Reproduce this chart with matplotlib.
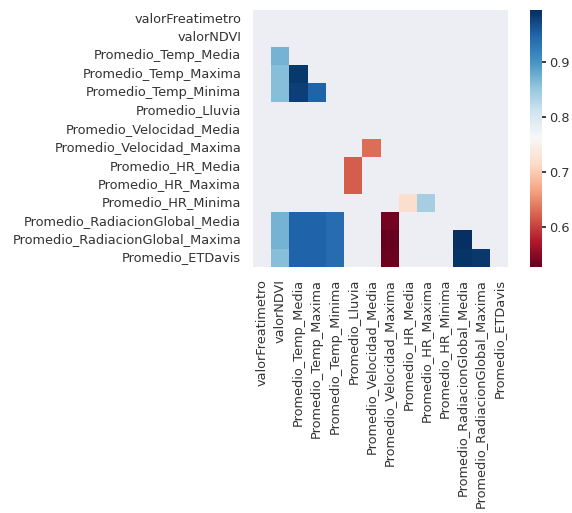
import numpy as np
import pandas as pd
import matplotlib
matplotlib.use("Agg")
import matplotlib.pyplot as plt
import seaborn as sns

# variables del dataset (orden de filas y columnas de la matriz)
variables = [
    "valorFreatimetro", "valorNDVI",
    "Promedio_Temp_Media", "Promedio_Temp_Maxima", "Promedio_Temp_Minima",
    "Promedio_Lluvia",
    "Promedio_Velocidad_Media", "Promedio_Velocidad_Maxima",
    "Promedio_HR_Media", "Promedio_HR_Maxima", "Promedio_HR_Minima",
    "Promedio_RadiacionGlobal_Media", "Promedio_RadiacionGlobal_Maxima",
    "Promedio_ETDavis",
]

# pares con correlacion alta (solo triangulo inferior)
var_fila = [
    "Promedio_Temp_Media", "Promedio_Temp_Maxima", "Promedio_Temp_Minima",
    "Promedio_Temp_Maxima", "Promedio_Temp_Minima", "Promedio_Temp_Minima",
    "Promedio_Velocidad_Maxima",
    "Promedio_HR_Media", "Promedio_HR_Maxima",
    "Promedio_HR_Minima", "Promedio_HR_Minima",
    "Promedio_RadiacionGlobal_Media", "Promedio_RadiacionGlobal_Media",
    "Promedio_RadiacionGlobal_Media", "Promedio_RadiacionGlobal_Media",
    "Promedio_RadiacionGlobal_Media",
    "Promedio_RadiacionGlobal_Maxima", "Promedio_RadiacionGlobal_Maxima",
    "Promedio_RadiacionGlobal_Maxima", "Promedio_RadiacionGlobal_Maxima",
    "Promedio_RadiacionGlobal_Maxima", "Promedio_RadiacionGlobal_Maxima",
    "Promedio_ETDavis", "Promedio_ETDavis", "Promedio_ETDavis",
    "Promedio_ETDavis", "Promedio_ETDavis", "Promedio_ETDavis",
    "Promedio_ETDavis",
]
var_col = [
    "valorNDVI", "valorNDVI", "valorNDVI",
    "Promedio_Temp_Media", "Promedio_Temp_Media", "Promedio_Temp_Maxima",
    "Promedio_Velocidad_Media",
    "Promedio_Lluvia", "Promedio_Lluvia",
    "Promedio_HR_Media", "Promedio_HR_Maxima",
    "valorNDVI", "Promedio_Temp_Media", "Promedio_Temp_Maxima",
    "Promedio_Temp_Minima", "Promedio_Velocidad_Maxima",
    "valorNDVI", "Promedio_Temp_Media", "Promedio_Temp_Maxima",
    "Promedio_Temp_Minima", "Promedio_Velocidad_Maxima",
    "Promedio_RadiacionGlobal_Media",
    "valorNDVI", "Promedio_Temp_Media", "Promedio_Temp_Maxima",
    "Promedio_Temp_Minima", "Promedio_Velocidad_Maxima",
    "Promedio_RadiacionGlobal_Media", "Promedio_RadiacionGlobal_Maxima",
]
valores = [
    0.87, 0.86, 0.86,
    0.985, 0.98, 0.95,
    0.63,
    0.62, 0.62,
    0.72, 0.84,
    0.87, 0.95, 0.95, 0.94, 0.535,
    0.87, 0.95, 0.95, 0.94, 0.527,
    0.994,
    0.86, 0.95, 0.95, 0.94, 0.53,
    0.99, 0.985,
]

corr = pd.DataFrame(np.nan, index=variables, columns=variables)
for a, b, v in zip(var_fila, var_col, valores):
    corr.loc[a, b] = v
mask = corr.isna()

sns.set_theme()
plt.rcParams["axes.facecolor"] = "#eceef4"
fig = plt.figure(figsize=(5.72, 5.13), dpi=100)
ax = fig.add_axes([253 / 572, 1 - 267 / 513, 255 / 572, 257 / 513])
cax = fig.add_axes([530 / 572, 1 - 267 / 513, 12 / 572, 257 / 513])

sns.heatmap(corr, mask=mask, cmap="RdBu", ax=ax, cbar_ax=cax)
ax.set_facecolor("#eceef4")
ax.grid(False)
ax.tick_params(labelsize=9.3, length=0, pad=8.5, labelcolor="#333333")
cax.tick_params(labelsize=9.3, length=3, pad=2, labelcolor="#333333")

fig.savefig("out.png", dpi=100)
